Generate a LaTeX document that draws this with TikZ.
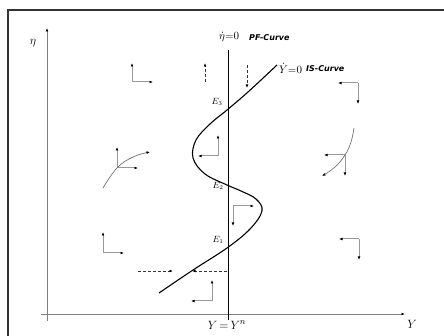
\documentclass[tikz,border=0pt]{standalone}
\usepackage{fontspec}
\setmainfont{Liberation Serif}
\newfontfamily\lblfont{DejaVu Sans}
\usetikzlibrary{arrows.meta}
\begin{document}
\begin{tikzpicture}[x=1pt,y=-1pt,
  tip/.style={-{Latex[length=3.5pt,width=2.8pt,black]}},
  axisline/.style={draw=black!50, line width=0.9pt, tip},
  larr/.style={draw=black!40, line width=1pt, tip},
  curvearr/.style={draw=black!55, line width=0.7pt, tip},
  frameline/.style={draw=black!80, line width=1.1pt},
  pfline/.style={draw=black, line width=1pt},
  iscurve/.style={draw=black, line width=1.1pt},
  dasharr/.style={draw=black!80, dash pattern=on 3pt off 2pt, line width=0.7pt, tip},
  curvelbl/.style={font=\lblfont\bfseries\itshape\fontsize{8}{9}\selectfont, inner sep=0pt},
  mathlbl/.style={font=\fontsize{11}{12}\selectfont, inner sep=0pt},
  elbl/.style={font=\fontsize{9}{10}\selectfont, inner sep=0pt},
  axlbl/.style={font=\fontsize{13}{14}\selectfont, inner sep=0pt}
]
\useasboundingbox (0,0) rectangle (444,336);
% frame
\coordinate (fbl) at (8,336);
\coordinate (ftl) at (8,10);
\coordinate (ftr) at (444,10);
\draw[frameline] (fbl) -- (ftl) -- (ftr);
% axes
\coordinate (vbot) at (47,321);
\coordinate (vtop) at (47,28);
\coordinate (hleft) at (41,314);
\coordinate (hright) at (405,314);
\draw[axisline] (vbot) -- (vtop);
\draw[axisline] (hleft) -- (hright);
\node[axlbl] (etalbl) at (33,43) {$\eta$};
\node[axlbl] (ylbl) at (412,324) {$Y$};
\node[axlbl] (ynlbl) at (227,325) {$Y\,{=}\,Y^{n}$};
% PF line
\coordinate (pftop) at (228,50);
\coordinate (pfbot) at (228,320);
\draw[pfline] (pftop) -- (pfbot);
\node[mathlbl, anchor=west] (pfmath) at (219,37) {$\dot{\eta}{=}0$};
\node[curvelbl, anchor=west] (pfname) at (249,38) {PF-Curve};
% IS curve
\draw[iscurve] plot[smooth, tension=0.6] coordinates {
  (159,293) (193,270) (227,248) (250,229) (262,211) (256,199) (241,191)
  (227,185) (205,174) (193,158) (196,140) (210,124) (227,110) (248,92) (277,65)};
\node[mathlbl, anchor=west] (ismath) at (279,68) {$\dot{Y}{=}0$};
\node[curvelbl, anchor=west] (isname) at (306,69) {IS-Curve};
% equilibrium labels
\node[elbl] (e3) at (217,102) {$E_3$};
\node[elbl] (e2) at (218,186) {$E_2$};
\node[elbl] (e1) at (218,240) {$E_1$};
% dashed arrows top
\coordinate (da1s) at (205,82);
\coordinate (da1e) at (205,63);
\draw[dasharr] (da1s) -- (da1e);
\coordinate (da2s) at (247,65);
\coordinate (da2e) at (247,88);
\draw[dasharr] (da2s) -- (da2e);
% dashed arrows bottom
\coordinate (db1s) at (138,271);
\coordinate (db1e) at (173,271);
\draw[dasharr] (db1s) -- (db1e);
\coordinate (db2s) at (227,271);
\coordinate (db2e) at (192,271);
\draw[dasharr] (db2s) -- (db2e);
% L arrows
\coordinate (l1) at (132,82); \coordinate (l1a) at (132,63); \coordinate (l1b) at (153,82);
\draw[larr] (l1) -- (l1a); \draw[larr] (l1) -- (l1b);
\coordinate (l2) at (117,168); \coordinate (l2a) at (117,147); \coordinate (l2b) at (138,168);
\draw[larr] (l2) -- (l2a); \draw[larr] (l2) -- (l2b);
\coordinate (l3) at (218,156); \coordinate (l3a) at (218,135); \coordinate (l3b) at (198,156);
\draw[larr] (l3) -- (l3a); \draw[larr] (l3) -- (l3b);
\coordinate (l4) at (233,206); \coordinate (l4a) at (254,206); \coordinate (l4b) at (233,226);
\draw[larr] (l4) -- (l4a); \draw[larr] (l4) -- (l4b);
\coordinate (l5) at (103,253); \coordinate (l5a) at (103,232); \coordinate (l5b) at (124,253);
\draw[larr] (l5) -- (l5a); \draw[larr] (l5) -- (l5b);
\coordinate (l6) at (212,301); \coordinate (l6a) at (212,280); \coordinate (l6b) at (191,301);
\draw[larr] (l6) -- (l6a); \draw[larr] (l6) -- (l6b);
\coordinate (l7) at (358,83); \coordinate (l7a) at (338,83); \coordinate (l7b) at (358,104);
\draw[larr] (l7) -- (l7a); \draw[larr] (l7) -- (l7b);
\coordinate (l8) at (345,155); \coordinate (l8a) at (324,155); \coordinate (l8b) at (345,176);
\draw[larr] (l8) -- (l8a); \draw[larr] (l8) -- (l8b);
\coordinate (l9) at (359,239); \coordinate (l9a) at (339,239); \coordinate (l9b) at (359,260);
\draw[larr] (l9) -- (l9a); \draw[larr] (l9) -- (l9b);
% curved arrows
\draw[curvearr] plot[smooth, tension=0.7] coordinates {(103,188) (117,168) (133,157) (150,152)};
\draw[curvearr] plot[smooth, tension=0.7] coordinates {(354,128) (351,142) (345,155) (335,167) (322,176)};
\end{tikzpicture}
\end{document}
